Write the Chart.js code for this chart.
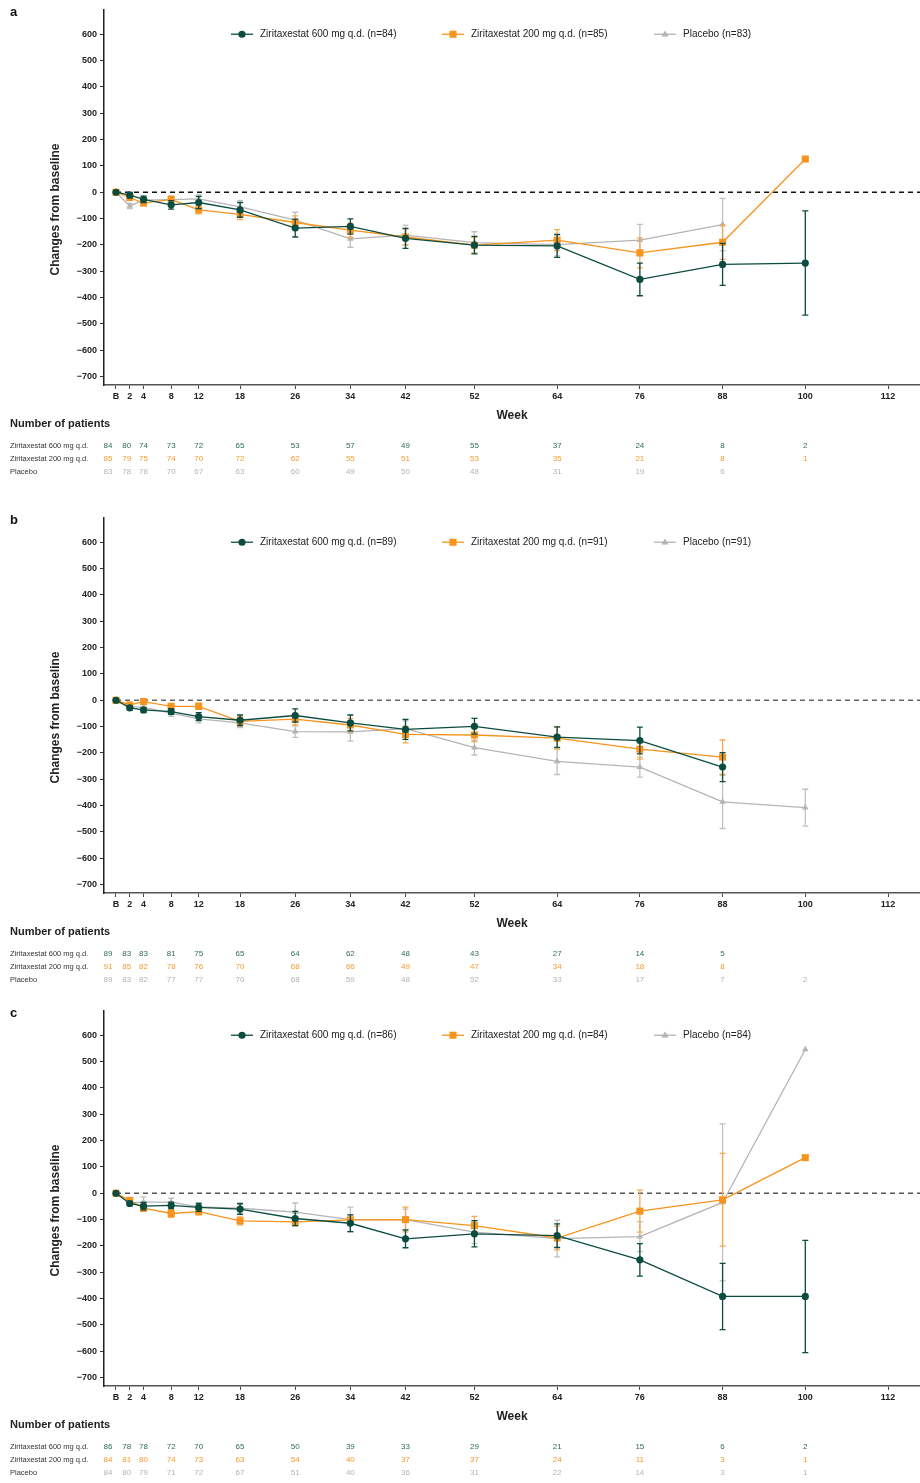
<!DOCTYPE html>
<html>
<head>
<meta charset="utf-8">
<script src="https://cdn.jsdelivr.net/npm/chart.js@4.4.0/dist/chart.umd.min.js"></script>
<style>
  html, body { margin: 0; padding: 0; background: #fff; }
  body { width: 920px; height: 1483px; position: relative; overflow: hidden; font-family: Arial, "Liberation Sans", sans-serif; }
  .panel { position: absolute; left: 0; width: 920px; height: 482px; }
</style>
</head>
<body>
<div class="panel" style="top:0px"><canvas id="chartA" width="920" height="482"></canvas></div>
<div class="panel" style="top:508px"><canvas id="chartB" width="920" height="482"></canvas></div>
<div class="panel" style="top:1001px"><canvas id="chartC" width="920" height="482"></canvas></div>

<script>
// ─── DATA ──────────────────────────────────────────────────
const WEEKS   = [0, 2, 4, 8, 12, 18, 26, 34, 42, 52, 64, 76, 88, 100];
const X_TICKS = [0, 2, 4, 8, 12, 18, 26, 34, 42, 52, 64, 76, 88, 100, 112];
const Y_TICKS = [600, 500, 400, 300, 200, 100, 0, -100, -200, -300, -400, -500, -600, -700];

const ARM_NAMES = ['Ziritaxestat 600 mg q.d.', 'Ziritaxestat 200 mg q.d.', 'Placebo'];

// panel a
const A_N       = [84, 85, 83];
const A_600     = [0, -11, -27, -48, -39, -67, -136, -130, -175, -201, -204, -331, -274, -269];
const A_600_ERR = [0, 10, 12, 16, 23, 28, 34, 29, 38, 33, 43, 62, 80, 198];
const A_200     = [0, -20, -41, -27, -67, -84, -115, -144, -170, -201, -182, -230, -190, 126];
const A_200_ERR = [0, 8, 10, 12, 15, 20, 25, 27, 30, 30, 40, 57, 65, null];
const A_PBO     = [0, -52, -30, -28, -25, -56, -106, -177, -163, -191, -199, -182, -123, null];
const A_PBO_ERR = [0, 10, 10, 12, 15, 25, 30, 32, 38, 41, 43, 60, 100, null];
const A_PTS_600 = [84, 80, 74, 73, 72, 65, 53, 57, 49, 55, 37, 24, 8, 2];
const A_PTS_200 = [85, 79, 75, 74, 70, 72, 62, 55, 51, 53, 35, 21, 8, 1];
const A_PTS_PBO = [83, 78, 78, 70, 67, 63, 60, 49, 50, 48, 31, 19, 6, null];

// panel b
const B_N       = [89, 91, 91];
const B_600     = [0, -29, -37, -43, -62, -76, -58, -86, -111, -99, -140, -153, -254, null];
const B_600_ERR = [0, 8, 10, 11, 15, 20, 25, 30, 38, 30, 39, 51, 55, null];
const B_200     = [0, -18, -5, -23, -23, -80, -72, -94, -130, -132, -144, -186, -216, null];
const B_200_ERR = [0, 8, 8, 10, 12, 18, 22, 25, 32, 25, 42, 38, 65, null];
const B_PBO     = [0, -24, -27, -49, -71, -86, -119, -120, -108, -180, -232, -254, -386, -408];
const B_PBO_ERR = [0, 8, 10, 12, 15, 18, 22, 35, 30, 28, 50, 38, 101, 70];
const B_PTS_600 = [89, 83, 83, 81, 75, 65, 64, 62, 48, 43, 27, 14, 5, null];
const B_PTS_200 = [91, 85, 82, 78, 76, 70, 68, 66, 49, 47, 34, 18, 8, null];
const B_PTS_PBO = [89, 83, 82, 77, 77, 70, 68, 59, 48, 52, 33, 17, 7, 2];

// panel c
const C_N       = [86, 84, 84];
const C_600     = [0, -39, -49, -46, -54, -60, -96, -114, -173, -154, -161, -253, -392, -392];
const C_600_ERR = [0, 8, 14, 12, 15, 20, 27, 32, 34, 50, 45, 62, 126, 213];
const C_200     = [0, -27, -57, -77, -70, -105, -109, -101, -100, -123, -170, -68, -25, 135];
const C_200_ERR = [0, 8, 12, 15, 12, 15, 15, 20, 47, 35, 45, 80, 176, null];
const C_PBO     = [0, -37, -34, -34, -52, -57, -72, -100, -100, -148, -172, -165, -35, 546];
const C_PBO_ERR = [0, 8, 20, 15, 15, 20, 35, 47, 40, 43, 70, 57, 298, null];
const C_PTS_600 = [86, 78, 78, 72, 70, 65, 50, 39, 33, 29, 21, 15, 6, 2];
const C_PTS_200 = [84, 81, 80, 74, 73, 63, 54, 40, 37, 37, 24, 11, 3, 1];
const C_PTS_PBO = [84, 80, 79, 71, 72, 67, 51, 40, 36, 31, 22, 14, 3, 1];

// ─── STYLE ─────────────────────────────────────────────────
const FONT = 'Arial, "Liberation Sans", sans-serif';
const ARM_STYLE = [
  { color: '#0b4c41', errColor: '#0b4c41', numColor: '#2d6b5f', pointStyle: 'circle',   radius: 3.6 },
  { color: '#f7941d', errColor: '#f8a94e', numColor: '#f59a2c', pointStyle: 'rect',     radius: 5 },
  { color: '#b4b4b4', errColor: '#c0c0c0', numColor: '#b3b3b3', pointStyle: 'triangle', radius: 3.8 },
];
const LEGEND_X   = [242, 453, 665];
const NUM_SHIFT  = [-8, -3];   // first table columns are nudged left to avoid crowding

const fmtY = v => (v < 0 ? '\u2212' + Math.abs(v) : String(v));

function drawMarker(ctx, style, r, x, y) {
  ctx.beginPath();
  if (style === 'circle') {
    ctx.arc(x, y, r, 0, Math.PI * 2);
  } else if (style === 'rect') {
    const s = r * Math.SQRT1_2;
    ctx.rect(x - s, y - s, s * 2, s * 2);
  } else {
    ctx.moveTo(x, y - r);
    ctx.lineTo(x + r * 0.95, y + r * 0.6);
    ctx.lineTo(x - r * 0.95, y + r * 0.6);
    ctx.closePath();
  }
  ctx.fill();
}

// error bars, zero line, legend, panel letter, y title, patient table
function makeDecor(letter, zeroColor, ptsRows) {
  return {
    id: 'decor' + letter,
    beforeDatasetsDraw(chart) {
      const { ctx, chartArea, scales: { x, y } } = chart;
      const y0 = y.getPixelForValue(0);
      ctx.save();
      ctx.setLineDash([5, 4]);
      ctx.strokeStyle = zeroColor;
      ctx.lineWidth = 1.3;
      ctx.beginPath();
      ctx.moveTo(x.getPixelForValue(0), y0);
      ctx.lineTo(chartArea.right, y0);
      ctx.stroke();
      ctx.restore();
    },
    beforeDatasetDraw(chart, args) {
      const ds = chart.data.datasets[args.index];
      if (!ds.err) return;
      const { ctx, scales: { x, y } } = chart;
      ctx.save();
      ctx.strokeStyle = ds.errColor;
      ctx.lineWidth = 1.3;
      ds.data.forEach((p, i) => {
        const e = ds.err[i];
        if (p.y == null || !e) return;
        const px = x.getPixelForValue(p.x);
        const top = y.getPixelForValue(p.y + e);
        const bot = y.getPixelForValue(p.y - e);
        ctx.beginPath();
        ctx.moveTo(px, top); ctx.lineTo(px, bot);
        ctx.moveTo(px - 3, top); ctx.lineTo(px + 3, top);
        ctx.moveTo(px - 3, bot); ctx.lineTo(px + 3, bot);
        ctx.stroke();
      });
      ctx.restore();
    },
    afterDraw(chart) {
      const { ctx, chartArea, scales: { x, y } } = chart;
      ctx.save();

      // panel letter
      ctx.fillStyle = '#111';
      ctx.font = 'bold 13px ' + FONT;
      ctx.textBaseline = 'middle';
      ctx.textAlign = 'left';
      ctx.fillText(letter, 10, 12);

      // y axis title (sits a little below the plot centre in the original)
      ctx.save();
      ctx.translate(56, (chartArea.top + chartArea.bottom) / 2 + 12);
      ctx.rotate(-Math.PI / 2);
      ctx.textAlign = 'center';
      ctx.fillStyle = '#222';
      ctx.font = 'bold 12px ' + FONT;
      ctx.fillText('Changes from baseline', 0, 0);
      ctx.restore();

      // legend
      const ly = y.getPixelForValue(600);
      chart.data.datasets.forEach((ds, i) => {
        const cx = LEGEND_X[i];
        ctx.strokeStyle = ds.borderColor;
        ctx.lineWidth = 1.3;
        ctx.beginPath();
        ctx.moveTo(cx - 11, ly); ctx.lineTo(cx + 11, ly);
        ctx.stroke();
        ctx.fillStyle = ds.borderColor;
        drawMarker(ctx, ds.pointStyle, ds.pointRadius, cx, ly);
        ctx.fillStyle = '#222';
        ctx.font = '10px ' + FONT;
        ctx.fillText(ds.label, cx + 18, ly + 0.5);
      });

      // number of patients
      const base = chartArea.bottom;
      ctx.fillStyle = '#222';
      ctx.font = 'bold 11px ' + FONT;
      ctx.fillText('Number of patients', 10, base + 39);
      ptsRows.forEach((row, r) => {
        const ry = base + 61 + r * 13;
        ctx.textAlign = 'left';
        ctx.fillStyle = '#333';
        ctx.font = '7.5px ' + FONT;
        ctx.fillText(ARM_NAMES[r], 10, ry);
        ctx.textAlign = 'center';
        ctx.fillStyle = ARM_STYLE[r].numColor;
        ctx.font = '8px ' + FONT;
        row.forEach((n, i) => {
          if (n == null) return;
          ctx.fillText(String(n), x.getPixelForValue(WEEKS[i]) + (NUM_SHIFT[i] || 0), ry);
        });
      });
      ctx.restore();
    },
  };
}

function buildChart(id, letter, zeroColor, nList, means, errs, ptsRows) {
  const datasets = means.map((vals, k) => ({
    label: `${ARM_NAMES[k]} (n=${nList[k]})`,
    data: WEEKS.map((w, i) => ({ x: w, y: vals[i] })),
    err: errs[k],
    errColor: ARM_STYLE[k].errColor,
    borderColor: ARM_STYLE[k].color,
    backgroundColor: ARM_STYLE[k].color,
    pointBackgroundColor: ARM_STYLE[k].color,
    pointBorderColor: ARM_STYLE[k].color,
    pointBorderWidth: 0,
    pointStyle: ARM_STYLE[k].pointStyle,
    pointRadius: ARM_STYLE[k].radius,
    borderWidth: 1.3,
    tension: 0,
    spanGaps: false,
  }));

  return new Chart(document.getElementById(id), {
    type: 'line',
    data: { datasets },
    plugins: [makeDecor(letter, zeroColor, ptsRows)],
    options: {
      responsive: false,
      animation: false,
      devicePixelRatio: 1,
      layout: { autoPadding: false, padding: { left: 46, right: 0, top: 10, bottom: 59 } },
      plugins: { legend: { display: false }, tooltip: { enabled: false } },
      scales: {
        x: {
          type: 'linear',
          min: -1.74,
          max: 116.64,
          afterBuildTicks: s => { s.ticks = X_TICKS.map(v => ({ value: v })); },
          afterFit: s => { s.height = 38; s.paddingLeft = 0; s.paddingRight = 0; },
          ticks: {
            autoSkip: false, maxRotation: 0, padding: 2, color: '#222',
            font: { family: FONT, size: 9, weight: 'bold' },
            callback: v => (v === 0 ? 'B' : String(v)),
          },
          grid: { display: true, drawOnChartArea: false, drawTicks: true, tickLength: 4, color: '#444' },
          border: { display: true, color: '#555', width: 1.5 },
          title: { display: true, text: 'Week', color: '#222', padding: 0, font: { family: FONT, size: 12, weight: 'bold' } },
        },
        y: {
          min: -732,
          max: 692,
          afterBuildTicks: s => { s.ticks = Y_TICKS.map(v => ({ value: v })); },
          afterFit: s => { s.width = 58; s.paddingTop = 0; s.paddingBottom = 0; },
          ticks: {
            padding: 3, color: '#222',
            font: { family: FONT, size: 9, weight: 'bold' },
            callback: v => fmtY(v),
          },
          grid: { display: true, drawOnChartArea: false, drawTicks: true, tickLength: 4, color: '#333' },
          border: { display: true, color: '#222', width: 1.5 },
        },
      },
    },
  });
}

buildChart('chartA', 'a', '#111', A_N,
  [A_600, A_200, A_PBO], [A_600_ERR, A_200_ERR, A_PBO_ERR], [A_PTS_600, A_PTS_200, A_PTS_PBO]);
buildChart('chartB', 'b', '#666', B_N,
  [B_600, B_200, B_PBO], [B_600_ERR, B_200_ERR, B_PBO_ERR], [B_PTS_600, B_PTS_200, B_PTS_PBO]);
buildChart('chartC', 'c', '#555', C_N,
  [C_600, C_200, C_PBO], [C_600_ERR, C_200_ERR, C_PBO_ERR], [C_PTS_600, C_PTS_200, C_PTS_PBO]);
</script>
</body>
</html>
